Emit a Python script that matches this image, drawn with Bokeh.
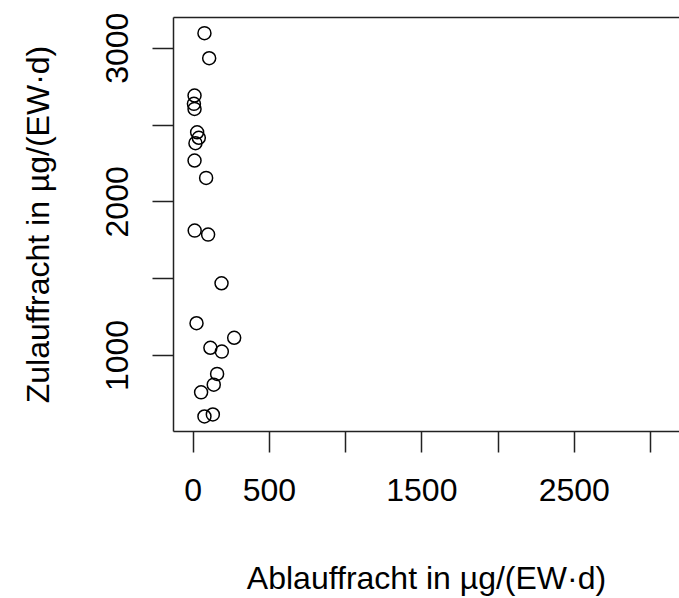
from bokeh.plotting import figure
from bokeh.models import LinearAxis, FixedTicker, Range1d, ColumnDataSource
from bokeh.embed import file_html
from bokeh.resources import INLINE

# Data (Ablauffracht vs Zulauffracht, µg/(EW·d))
ablauf = [74, 105, 9, 5, 9, 26, 37, 15, 9, 85, 10, 98, 186, 22, 269, 113, 188, 157, 135, 52, 74, 129]
zulauf = [3098, 2935, 2692, 2638, 2605, 2453, 2417, 2382, 2269, 2156, 1813, 1787, 1470, 1210, 1115, 1050, 1025, 880, 810, 760, 603, 616]

x_ticks = [0, 500, 1000, 1500, 2000, 2500, 3000]
x_shown = ["0", "500", "", "1500", "", "2500", ""]
y_ticks = [1000, 1500, 2000, 2500, 3000]
y_shown = ["1000", "", "2000", "", "3000"]

FONT = "Liberation Sans"
FS = "32px"

src = ColumnDataSource(dict(x=ablauf, y=zulauf))

p = figure(width=679, height=598, output_backend="svg", toolbar_location=None,
           x_range=Range1d(-129, 3190), y_range=Range1d(505, 3200),
           min_border_left=173, min_border_right=0, min_border_top=17, min_border_bottom=167,
           x_axis_label="Ablauffracht in µg/(EW·d)", y_axis_label="Zulauffracht in µg/(EW·d)")
p.outline_line_color = None
p.xgrid.visible = False
p.ygrid.visible = False
p.background_fill_color = "white"
p.border_fill_color = "white"

p.scatter("x", "y", source=src, marker="circle", size=13, fill_color=None,
          line_color="black", line_width=1.5)

for ax, ticks, shown in ((p.xaxis[0], x_ticks, x_shown), (p.yaxis[0], y_ticks, y_shown)):
    ax.ticker = FixedTicker(ticks=ticks)
    ax.major_label_overrides = {t: s for t, s in zip(ticks, shown)}
    ax.minor_tick_line_color = None
    ax.major_tick_in = 0
    ax.major_tick_out = 21
    ax.major_tick_line_width = 1.5
    ax.major_tick_line_color = "#222222"
    ax.axis_line_width = 1.5
    ax.axis_line_color = "#222222"
    ax.major_label_text_font = FONT
    ax.major_label_text_font_size = FS
    ax.major_label_text_color = "black"
    ax.axis_label_text_font = FONT
    ax.axis_label_text_font_size = FS
    ax.axis_label_text_font_style = "normal"
    ax.axis_label_text_color = "black"

p.xaxis.major_label_standoff = 26
p.xaxis.axis_label_standoff = 56
p.yaxis.major_label_orientation = "vertical"
p.yaxis.major_label_standoff = 24
p.yaxis.axis_label_standoff = 48

top = LinearAxis(ticker=FixedTicker(ticks=[]), axis_line_width=1.5, axis_line_color="#222222",
                 major_label_text_font_size="0px", major_tick_line_color=None,
                 minor_tick_line_color=None)
p.add_layout(top, "above")

open("out.html", "w").write(file_html(p, INLINE))
